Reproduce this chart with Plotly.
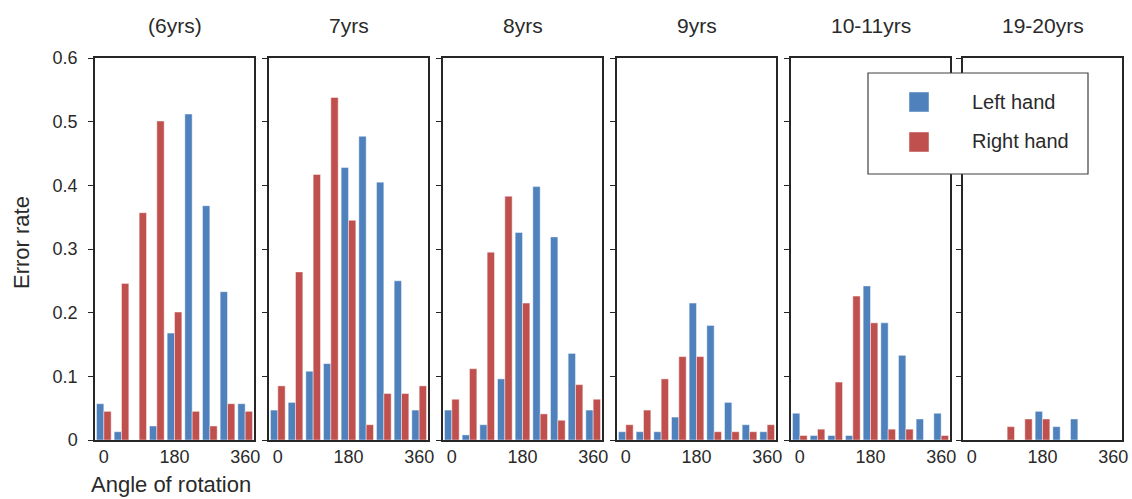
import plotly.graph_objects as go

W, H = 1132, 499

angles = [0, 45, 90, 135, 180, 225, 270, 315, 360]
panel_titles = ["(6yrs)", "7yrs", "8yrs", "9yrs", "10-11yrs", "19-20yrs"]

left_6yrs = [0.057, 0.013, 0.0, 0.022, 0.168, 0.512, 0.368, 0.233, 0.057]
right_6yrs = [0.045, 0.246, 0.357, 0.501, 0.201, 0.045, 0.022, 0.057, 0.045]

left_7yrs = [0.047, 0.059, 0.108, 0.120, 0.428, 0.477, 0.405, 0.250, 0.047]
right_7yrs = [0.085, 0.264, 0.417, 0.538, 0.345, 0.024, 0.073, 0.073, 0.085]

left_8yrs = [0.047, 0.008, 0.024, 0.096, 0.326, 0.398, 0.319, 0.136, 0.047]
right_8yrs = [0.064, 0.112, 0.295, 0.383, 0.215, 0.041, 0.031, 0.087, 0.064]

left_9yrs = [0.013, 0.013, 0.013, 0.036, 0.215, 0.180, 0.059, 0.024, 0.013]
right_9yrs = [0.024, 0.047, 0.096, 0.131, 0.131, 0.013, 0.013, 0.013, 0.024]

left_10_11yrs = [0.042, 0.007, 0.007, 0.007, 0.242, 0.184, 0.133, 0.033, 0.042]
right_10_11yrs = [0.007, 0.017, 0.091, 0.226, 0.184, 0.017, 0.017, 0.0, 0.007]

left_19_20yrs = [0.0, 0.0, 0.0, 0.0, 0.045, 0.021, 0.033, 0.0, 0.0]
right_19_20yrs = [0.0, 0.0, 0.021, 0.033, 0.033, 0.0, 0.0, 0.0, 0.0]

y_ticks = [0, 0.1, 0.2, 0.3, 0.4, 0.5, 0.6]
x_ticks = [0, 180, 360]

left_series = [left_6yrs, left_7yrs, left_8yrs, left_9yrs, left_10_11yrs, left_19_20yrs]
right_series = [right_6yrs, right_7yrs, right_8yrs, right_9yrs, right_10_11yrs, right_19_20yrs]

BLUE = "#4F81BD"
RED = "#C0504D"
LINE = "#262626"
TEXT = "#2a2a2a"
FONT = "Liberation Sans, Arial, sans-serif"

# layout geometry (pixels)
lefts = [95, 269, 443, 617, 791, 963]
rights = [254, 428, 602, 776, 950, 1122]
top_px, bottom_px = 58, 440

fig = go.Figure()
layout = dict(
    width=W, height=H,
    margin=dict(l=0, r=0, t=0, b=0, pad=0, autoexpand=False),
    paper_bgcolor="white", plot_bgcolor="white",
    barmode="group", bargap=0.17, bargroupgap=0.0,
    showlegend=False,
    font=dict(family=FONT, color=TEXT),
)

ydom = [1 - bottom_px / H, 1 - top_px / H]
annotations = []
for i in range(6):
    sfx = "" if i == 0 else str(i + 1)
    xa, ya = "x" + sfx, "y" + sfx
    fig.add_trace(go.Bar(x=angles, y=left_series[i], name="Left hand",
                         marker=dict(color=BLUE, line=dict(color="rgba(255,255,255,0.55)", width=0.8)),
                         xaxis=xa, yaxis=ya))
    fig.add_trace(go.Bar(x=angles, y=right_series[i], name="Right hand",
                         marker=dict(color=RED, line=dict(color="rgba(255,255,255,0.55)", width=0.8)),
                         xaxis=xa, yaxis=ya))
    layout["xaxis" + sfx] = dict(
        domain=[lefts[i] / W, rights[i] / W], anchor=ya, automargin=False,
        range=[-22.5, 382.5], tickvals=x_ticks, ticks="",
        showline=True, mirror=True, linecolor=LINE, linewidth=1.5,
        showgrid=False, zeroline=False,
        tickfont=dict(size=18, family=FONT, color=TEXT),
    )
    layout["yaxis" + sfx] = dict(
        domain=ydom, anchor=xa, automargin=False,
        range=[0, 0.6], tickvals=y_ticks, ticks="outside", ticklen=5,
        tickcolor=LINE, tickwidth=1.3,
        showticklabels=(i == 0), ticklabelstandoff=7,
        showline=True, mirror=True, linecolor=LINE, linewidth=1.5,
        showgrid=False, zeroline=False,
        tickfont=dict(size=18, family=FONT, color=TEXT),
    )
    annotations.append(dict(
        text=panel_titles[i], xref="paper", yref="paper",
        x=(lefts[i] + rights[i]) / 2 / W, y=1 - 25 / H,
        xanchor="center", yanchor="middle", showarrow=False,
        font=dict(size=21, family=FONT, color=TEXT)))

annotations.append(dict(text="Error rate", xref="paper", yref="paper",
                        x=22 / W, y=1 - 243 / H, textangle=-90,
                        xanchor="center", yanchor="middle", showarrow=False,
                        font=dict(size=22, family=FONT, color=TEXT)))
annotations.append(dict(text="Angle of rotation", xref="paper", yref="paper",
                        x=89 / W, y=1 - 484 / H,
                        xanchor="left", yanchor="middle", showarrow=False,
                        font=dict(size=22, family=FONT, color=TEXT)))

# manual legend
shapes = [
    dict(type="rect", xref="paper", yref="paper", layer="above",
         x0=868 / W, x1=1088 / W, y0=1 - 174 / H, y1=1 - 73 / H,
         line=dict(color="#404040", width=1.2), fillcolor="white"),
    dict(type="rect", xref="paper", yref="paper", layer="above",
         x0=909 / W, x1=929 / W, y0=1 - 112 / H, y1=1 - 92 / H,
         line=dict(color="rgba(255,255,255,0.6)", width=0.8), fillcolor=BLUE),
    dict(type="rect", xref="paper", yref="paper", layer="above",
         x0=909 / W, x1=929 / W, y0=1 - 152 / H, y1=1 - 132 / H,
         line=dict(color="rgba(255,255,255,0.6)", width=0.8), fillcolor=RED),
]
for label, ypx in [("Left hand", 102), ("Right hand", 141)]:
    annotations.append(dict(text=label, xref="paper", yref="paper",
                            x=970 / W, y=1 - ypx / H,
                            xanchor="left", yanchor="middle", showarrow=False,
                            font=dict(size=20, family=FONT, color=TEXT)))

layout["annotations"] = annotations
layout["shapes"] = shapes
fig.update_layout(**layout)
fig.write_html("out.html")
